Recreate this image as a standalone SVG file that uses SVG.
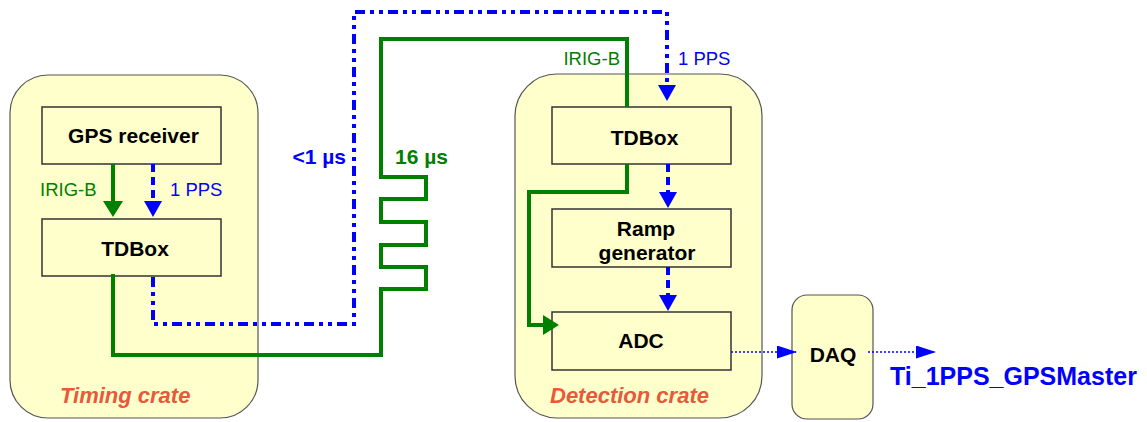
<svg xmlns="http://www.w3.org/2000/svg" width="1147" height="422" viewBox="0 0 1147 422">
<style>
.crate{fill:#FFFFCC;stroke:#555;stroke-width:1.2}
.box{fill:#FFFFCC;stroke:#333;stroke-width:1.5}
.lbl{font-family:"Liberation Sans",Arial,sans-serif;font-weight:bold;font-size:21px;fill:#000;text-anchor:middle}
.crl{font-family:"Liberation Sans",Arial,sans-serif;font-weight:bold;font-style:italic;font-size:22px;fill:#E8583A}
.sig{font-family:"Liberation Sans",Arial,sans-serif;font-size:18.5px}
.g{stroke:#008000;stroke-width:4;fill:none}
.b{stroke:#0000FF;stroke-width:4;fill:none;stroke-dasharray:8 5}
.bdd{stroke:#0000FF;stroke-width:4;fill:none;stroke-dasharray:10 5 4 5 4 5}
.bt{stroke:#0000FF;stroke-width:1.5;fill:none;stroke-dasharray:2 2}
</style>
<defs>
<marker id="ag" markerUnits="userSpaceOnUse" markerWidth="16" markerHeight="20" refX="12" refY="10" orient="auto"><path d="M0,0 L16,10 L0,20 z" fill="#008000"/></marker>
<marker id="ab" markerUnits="userSpaceOnUse" markerWidth="16" markerHeight="18" refX="12" refY="9" orient="auto"><path d="M0,0 L16,9 L0,18 z" fill="#0000FF"/></marker>
<marker id="at" markerUnits="userSpaceOnUse" markerWidth="20" markerHeight="13" refX="19" refY="6.5" orient="auto"><path d="M0,0 L20,6.5 L0,13 z" fill="#0000FF"/></marker>
</defs>
<g id="timing-crate">
<rect class="crate" x="10" y="75" width="248" height="343" rx="38" ry="38"/>
<text class="crl" x="60" y="403">Timing crate</text>
</g>
<g id="detection-crate">
<rect class="crate" x="515" y="74" width="247" height="344" rx="42" ry="42"/>
<text class="crl" x="550" y="403">Detection crate</text>
</g>
<g id="gps-receiver">
<rect class="box" x="42" y="107" width="179" height="57"/>
<text class="lbl" x="133.5" y="143">GPS receiver</text>
</g>
<g id="tdbox-timing">
<rect class="box" x="42" y="219" width="179" height="57"/>
<text class="lbl" x="135" y="256">TDBox</text>
</g>
<g id="tdbox-detection">
<rect class="box" x="552" y="107" width="179" height="57"/>
<text class="lbl" x="644.5" y="145">TDBox</text>
</g>
<g id="ramp-generator">
<rect class="box" x="552" y="209" width="179" height="58"/>
<text class="lbl" x="646" y="236">Ramp</text>
<text class="lbl" x="647" y="260">generator</text>
</g>
<g id="adc">
<rect class="box" x="552" y="312" width="179" height="58"/>
<text class="lbl" x="641" y="348">ADC</text>
</g>
<g id="daq">
<rect class="crate" x="792" y="295" width="81" height="124" rx="15" ry="15"/>
<text class="lbl" x="833" y="362">DAQ</text>
</g>
<g id="connectors">
<path class="g" d="M113,164 V213" marker-end="url(#ag)"/>
<path class="b" d="M153,164 V213" marker-end="url(#ab)"/>
<path class="g" d="M113,274 V355 H381 V289 H426 V267 H381 V245 H426 V222 H381 V199 H426 V177 H381 V39 H627 V107"/>
<path class="bdd" d="M153,277 V324 H354 V12 H667 V97" marker-end="url(#ab)"/>
<path class="g" d="M627,164 V192 H529 V325 H555" marker-end="url(#ag)"/>
<path class="b" d="M668,164 V204" marker-end="url(#ab)"/>
<path class="b" d="M668,267 V307" marker-end="url(#ab)"/>
<path class="bt" d="M731,352 H796" marker-end="url(#at)"/>
<path class="bt" d="M868,352 H935" marker-end="url(#at)"/>
<text class="sig" x="40" y="196" fill="#008000">IRIG-B</text>
<text class="sig" x="170" y="196" fill="#0000FF">1 PPS</text>
<text class="sig" x="620" y="65" fill="#008000" text-anchor="end">IRIG-B</text>
<text class="sig" x="678" y="65" fill="#0000FF">1 PPS</text>
<text x="346" y="164" font-family="Liberation Sans, Arial, sans-serif" font-weight="bold" font-size="21" fill="#0000FF" text-anchor="end">&lt;1 µs</text>
<text x="395" y="164" font-family="Liberation Sans, Arial, sans-serif" font-weight="bold" font-size="21" fill="#008000">16 µs</text>
<text x="890" y="385" font-family="Liberation Sans, Arial, sans-serif" font-weight="bold" font-size="25" fill="#0000FF">Ti_1PPS_GPSMaster</text>
</g>
</svg>
